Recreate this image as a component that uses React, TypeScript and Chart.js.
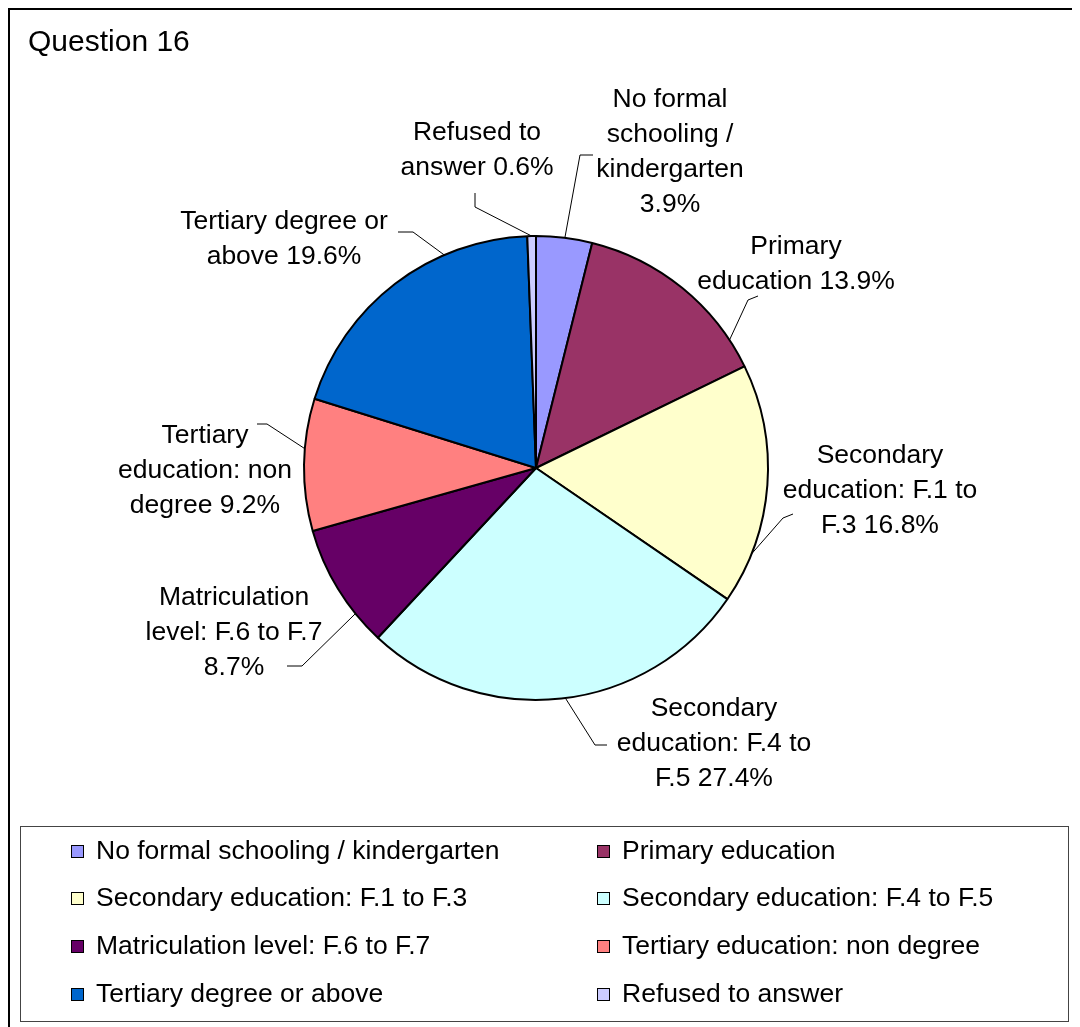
import React, { useEffect, useRef } from "react";
import { Chart, registerables } from "chart.js";

Chart.register(...registerables);

// ---- data ----
const chartTitle = "Question 16";
const categories = [
  "No formal schooling / kindergarten",
  "Primary education",
  "Secondary education: F.1 to F.3",
  "Secondary education: F.4 to F.5",
  "Matriculation level: F.6 to F.7",
  "Tertiary education: non degree",
  "Tertiary degree or above",
  "Refused to answer",
];
const percentages = [3.9, 13.9, 16.8, 27.4, 8.7, 9.2, 19.6, 0.6];
const sliceLabelLines = [
  ["No formal", "schooling /", "kindergarten", "{v}"],
  ["Primary", "education {v}"],
  ["Secondary", "education: F.1 to", "F.3 {v}"],
  ["Secondary", "education: F.4 to", "F.5 {v}"],
  ["Matriculation", "level: F.6 to F.7", "{v}"],
  ["Tertiary", "education: non", "degree {v}"],
  ["Tertiary degree or", "above {v}"],
  ["Refused to", "answer {v}"],
];
const sliceColors = [
  "#9999FF",
  "#993366",
  "#FFFFCC",
  "#CCFFFF",
  "#660066",
  "#FF8080",
  "#0066CC",
  "#CCCCFF",
];

// ---- layout / style (positions relative to pie centre) ----
const labelLayout = [
  { dx: 134, dy: -368, start: [57, -313], elbow: [44, -313], frac: 0.51 },
  { dx: 260, dy: -221, start: [222, -172], elbow: [212, -168], frac: 0.85 },
  { dx: 344, dy: -12, start: [257, 46], elbow: [247, 50], frac: 0.79 },
  { dx: 178, dy: 241, start: [71, 277], elbow: [59, 277], frac: 0.49 },
  { dx: -302, dy: 130, start: [-249, 198], elbow: [-234, 198], frac: 0.26 },
  { dx: -331, dy: -32, start: [-279, -44], elbow: [-269, -44], frac: 0.62 },
  { dx: -252, dy: -246, start: [-138, -236], elbow: [-123, -236], frac: 0.7 },
  { dx: -59, dy: -335, start: [-61, -275], elbow: [-61, -261], frac: 0.5 },
];
const W = 1072;
const H = 1019;
const FONT = "'Liberation Sans', Arial, sans-serif";
const LABEL_FONT_SIZE = 26.5;
const LEGEND_FONT_SIZE = 26.5;
const LINE_H = 35;

const decorPlugin = {
  id: "decor",
  afterDraw(chart: any) {
    const ctx = chart.ctx as CanvasRenderingContext2D;
    const meta = chart.getDatasetMeta(0);
    const values = chart.data.datasets[0].data as number[];
    ctx.save();

    // outer frame (left, top and right edges visible)
    ctx.fillStyle = "#000";
    ctx.fillRect(0, 0, 2, H);
    ctx.fillRect(0, 0, W, 2);
    ctx.fillRect(1069, 0, 2, H);

    // title
    ctx.fillStyle = "#000";
    ctx.font = `30px ${FONT}`;
    ctx.textAlign = "left";
    ctx.textBaseline = "middle";
    ctx.fillText(chartTitle, 20, 35);

    // slice labels and leader lines
    ctx.font = `${LABEL_FONT_SIZE}px ${FONT}`;
    ctx.textAlign = "center";
    meta.data.forEach((arc: any, i: number) => {
      const p = arc.getProps(["x", "y", "startAngle", "endAngle", "outerRadius"], true);
      const lay = labelLayout[i];
      const lines = sliceLabelLines[i].map((s) =>
        s.replace("{v}", `${values[i].toFixed(1)}%`)
      );
      ctx.fillStyle = "#000";
      lines.forEach((ln, k) => {
        ctx.fillText(ln, p.x + lay.dx, p.y + lay.dy + k * LINE_H);
      });
      const ang = p.startAngle + (p.endAngle - p.startAngle) * lay.frac;
      const ex = p.x + Math.cos(ang) * p.outerRadius;
      const ey = p.y + Math.sin(ang) * p.outerRadius;
      ctx.strokeStyle = "#000";
      ctx.lineWidth = 1;
      ctx.beginPath();
      ctx.moveTo(p.x + lay.start[0], p.y + lay.start[1]);
      ctx.lineTo(p.x + lay.elbow[0], p.y + lay.elbow[1]);
      ctx.lineTo(ex, ey);
      ctx.stroke();
    });

    // legend box
    ctx.strokeStyle = "#444";
    ctx.lineWidth = 1;
    ctx.strokeRect(12.5, 818.5, 1048, 195);
    const colSq = [63, 589];
    const colTx = [88, 614];
    const rowY = [843, 890, 938, 986];
    ctx.font = `${LEGEND_FONT_SIZE}px ${FONT}`;
    ctx.textAlign = "left";
    ctx.textBaseline = "middle";
    chart.data.labels.forEach((lab: string, i: number) => {
      const c = i % 2;
      const r = Math.floor(i / 2);
      const y = rowY[r];
      ctx.fillStyle = sliceColors[i];
      ctx.fillRect(colSq[c], y - 6, 13, 13);
      ctx.strokeStyle = "#000";
      ctx.lineWidth = 1;
      ctx.strokeRect(colSq[c] + 0.5, y - 5.5, 12, 12);
      ctx.fillStyle = "#000";
      ctx.fillText(lab, colTx[c], y + 1);
    });

    ctx.restore();
  },
};

export default function App() {
  const ref = useRef<HTMLCanvasElement | null>(null);
  useEffect(() => {
    if (!ref.current) return;
    const chart = new Chart(ref.current, {
      type: "pie",
      data: {
        labels: categories,
        datasets: [
          {
            data: percentages,
            backgroundColor: sliceColors,
            borderColor: "#000",
            borderWidth: 2,
          },
        ],
      },
      options: {
        responsive: false,
        animation: false,
        devicePixelRatio: 1,
        events: [],
        layout: { padding: { left: 295, right: 311, top: 227, bottom: 326 } },
        plugins: {
          legend: { display: false },
          title: { display: false },
          tooltip: { enabled: false },
        },
      },
      plugins: [decorPlugin],
    });
    return () => chart.destroy();
  }, []);
  return (
    <>
      <style>{`html,body{overflow:hidden;}`}</style>
      <div style={{ width: W, height: H, background: "#fff" }}>
        <canvas ref={ref} width={W} height={H} style={{ display: "block" }} />
      </div>
    </>
  );
}
